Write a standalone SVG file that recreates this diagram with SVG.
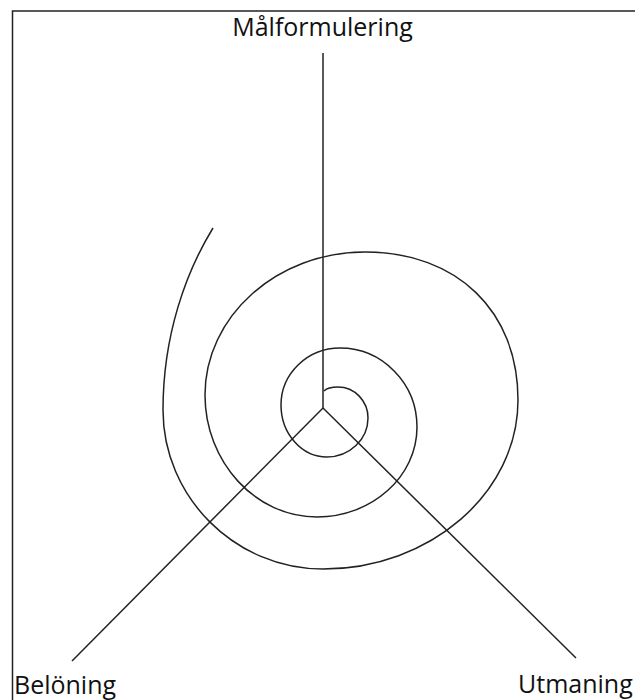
<svg xmlns="http://www.w3.org/2000/svg" width="635" height="700" viewBox="0 0 635 700">
<style>
.ln{fill:none;stroke:#222;stroke-width:1.5}
.lbl{font-family:"Open Sans","Liberation Sans",sans-serif;font-size:25px;fill:#111}
</style>
<rect width="635" height="700" fill="#fff"/>
<path class="ln" d="M12.5,700 V11 H635"/>
<g id="spiral">
<path class="ln" d="M324,391 Q328,387 338,387 C354.6,387 368,401 368,418 C368,439.5 349.5,457 327,457 C301.7,457 281,433.6 281,405 C281,373.6 307.5,348 340,348 C382.4,348 417,383.5 417,427 C417,476.5 372,517 317,517 C255.4,517 205,462 205,395 C205,316.4 277,252 365,252 C457,252 518,311 518,400 C518,493 430,569 323,569 C235,569 163,497 163,410 C163,335 186,272 213,228"/>
</g>
<g id="connectors">
<line class="ln" x1="323" y1="53" x2="323" y2="408"/>
<line class="ln" x1="323" y1="408" x2="72" y2="661"/>
<line class="ln" x1="323" y1="408" x2="576" y2="658"/>
</g>
<g id="malformulering"><text class="lbl" x="322.5" y="36" text-anchor="middle">Målformulering</text></g>
<g id="beloning"><text class="lbl" x="14" y="694">Belöning</text></g>
<g id="utmaning"><text class="lbl" x="518" y="693">Utmaning</text></g>
</svg>
